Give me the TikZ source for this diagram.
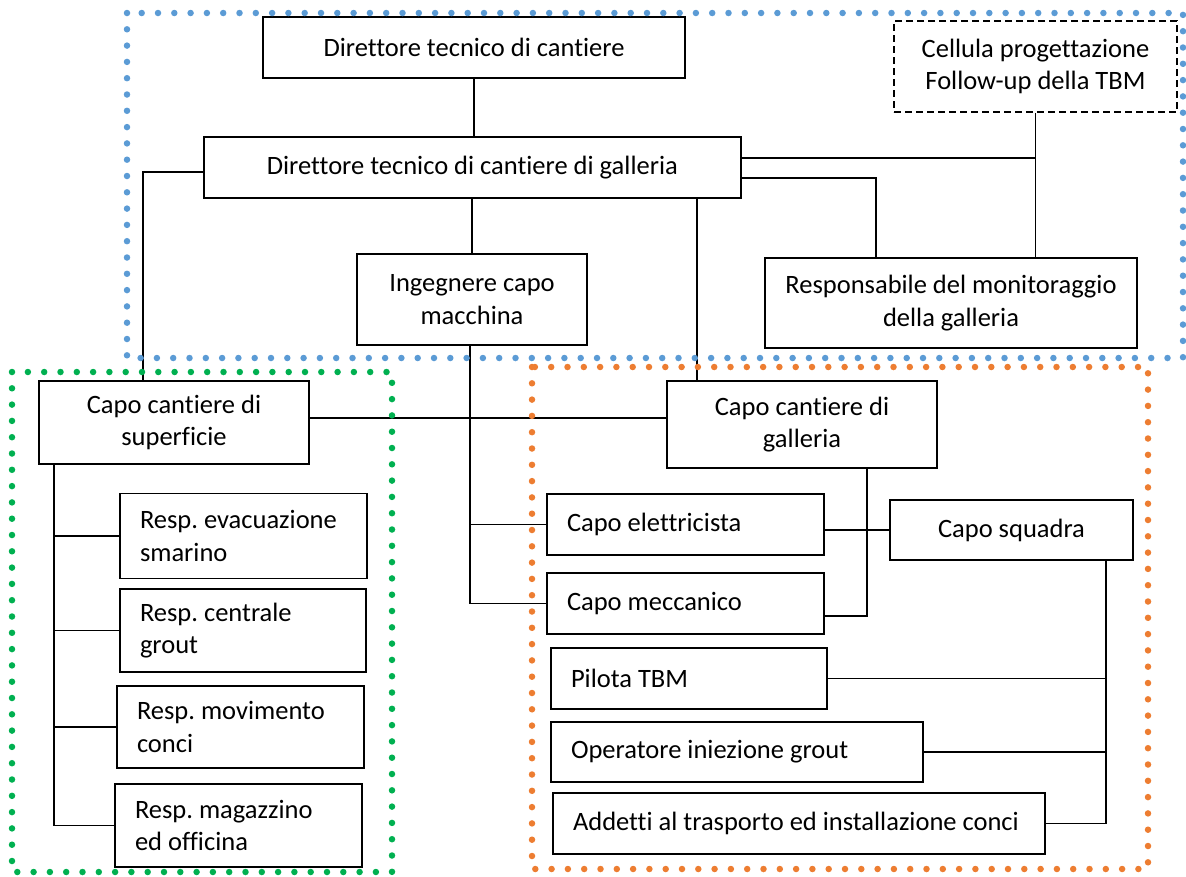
\documentclass[tikz,border=0pt]{standalone}
\usepackage{fontspec}
\setmainfont{Carlito}[Ligatures=CommonOff]
\frenchspacing
\definecolor{fblue}{HTML}{5B9BD5}
\definecolor{fgreen}{HTML}{00B050}
\definecolor{forange}{HTML}{ED7D31}
\begin{document}
\begin{tikzpicture}[x=1pt,y=-1pt,
  font=\fontsize{26.5}{32.5}\selectfont,
  box/.style={draw, fill=white, line width=1.8pt, inner sep=0pt, align=center},
  lbox/.style={draw, fill=white, line width=1.8pt, inner xsep=20pt, inner ysep=0pt, align=flush left},
  conn/.style={line width=1.9pt},
  frame/.style={line width=6.5pt, line cap=round, dash pattern=on 0pt off 16.3pt}
]
\useasboundingbox (0,0) rectangle (1186,876);

% nodes
\node[box, minimum width=422pt, minimum height=61pt] (A) at (474,47.5) {Direttore tecnico di cantiere};
\node[box, minimum width=537pt, minimum height=61pt] (B) at (472.3,167.5) {Direttore tecnico di cantiere di galleria};
\node[box, minimum width=230pt, minimum height=91pt] (C) at (472,299.5) {Ingegnere capo\\macchina};
\node[box, dashed, dash pattern=on 7pt off 4pt, minimum width=283pt, minimum height=91pt] (Cell) at (1035.5,66.5) {Cellula progettazione\\Follow-up della TBM};
\node[box, minimum width=372pt, minimum height=90pt] (Resp) at (951,303) {Responsabile del monitoraggio\\della galleria};
\node[box, minimum width=270pt, minimum height=83pt] (Sup) at (174,422.5) {Capo cantiere di\\superficie};
\node[box, minimum width=270pt, minimum height=87pt] (Gal) at (802,424.5) {Capo cantiere di\\galleria};
\node[lbox, text width=237pt, minimum height=61pt] (Ele) at (685.5,524.5) {Capo elettricista};
\node[lbox, text width=237pt, minimum height=61pt] (Mec) at (685.5,603.5) {Capo meccanico};
\node[box, minimum width=243pt, minimum height=60pt] (Squ) at (1011.5,530) {Capo squadra};
\node[lbox, text width=236pt, minimum height=61pt] (Pil) at (689,678.5) {Pilota TBM};
\node[lbox, text width=332pt, minimum height=60pt] (Op) at (737,752) {Operatore iniezione grout};
\node[lbox, text width=452pt, minimum height=61pt] (Add) at (799,823.5) {Addetti al trasporto ed installazione conci};
\node[lbox, text width=207pt, minimum height=85pt] (R1) at (243.5,536) {Resp. evacuazione\\smarino};
\node[lbox, text width=206pt, minimum height=83pt] (R2) at (243,630.5) {Resp. centrale\\grout};
\node[lbox, text width=207pt, minimum height=82pt] (R3) at (240.5,727) {Resp. movimento\\conci};
\node[lbox, text width=207pt, minimum height=83pt] (R4) at (238.5,825.5) {Resp. magazzino\\ed officina};

% connector anchors
\coordinate (bL) at ([yshift=-4.5pt]B.west);
\coordinate (supT) at ([xshift=-31pt]Sup.north);
\coordinate (galT) at ([xshift=-105pt]Gal.north);
\coordinate (bR1) at ([yshift=9.5pt]B.east);
\coordinate (bR2) at ([yshift=-10.5pt]B.east);
\coordinate (respT) at ([xshift=-75pt]Resp.north);
\coordinate (supR) at ([yshift=4.5pt]Sup.east);
\coordinate (cB) at ([xshift=-2pt]C.south);
\coordinate (galB) at ([xshift=65pt]Gal.south);
\coordinate (mecR) at ([yshift=-12.5pt]Mec.east);
\coordinate (sqB) at ([xshift=94.5pt]Squ.south);
\coordinate (supB) at ([xshift=-120pt]Sup.south);

% connectors
\begin{scope}[conn]
\draw (A.south) -- (A.south |- B.north);
\draw (bL) -| (supT);
\draw (C.north |- B.south) -- (C.north);
\draw (galT |- B.south) -- (galT);
\draw (bR1) -- (bR1 -| Cell.south);
\draw (Cell.south) -- (Cell.south |- Resp.north);
\draw (bR2) -| (respT);
\draw (supR) -- (supR -| Gal.west);
\draw (cB) |- (Mec.west);
\draw (cB |- Ele.west) -- (Ele.west);
\draw (galB) |- (mecR);
\draw (Squ.west) -- (Squ.west -| Ele.east);
\draw (sqB) |- (Add.east);
\draw (Pil.east) -- (Pil.east -| sqB);
\draw (Op.east) -- (Op.east -| sqB);
\draw (supB) |- (R4.west);
\draw (supB |- R1.west) -- (R1.west);
\draw (supB |- R2.west) -- (R2.west);
\draw (supB |- R3.west) -- (R3.west);
\end{scope}

% dotted frames
\draw[frame, fblue] (127,13) rectangle (1183,358);
\draw[frame, fgreen] (12,372) rectangle (392,872);
\draw[frame, forange] (532,367) rectangle (1148,869);
\end{tikzpicture}
\end{document}
